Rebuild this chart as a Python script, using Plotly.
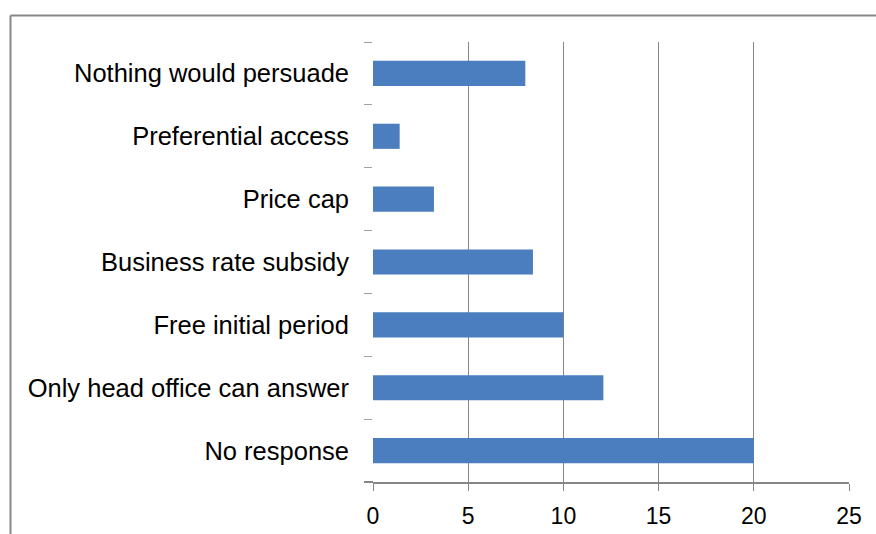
import plotly.graph_objects as go

# Survey responses (bottom to top as drawn)
categories = [
    "No response",
    "Only head office can answer",
    "Free initial period",
    "Business rate subsidy",
    "Price cap",
    "Preferential access",
    "Nothing would persuade",
]
values = [20, 12.1, 10, 8.4, 3.2, 1.4, 8]
x_ticks = [0, 5, 10, 15, 20, 25]

W, H = 876, 534
M_L, M_R, M_T, M_B = 373, 27, 42, 52
plot_w = W - M_L - M_R
plot_h = H - M_T - M_B

GRAY = "#878787"
FONT = "Liberation Sans, Arial, sans-serif"


def px_x(px):
    return (px - M_L) / plot_w


def px_y(py):
    return (H - M_B - py) / plot_h


fig = go.Figure(
    go.Bar(
        x=values,
        y=categories,
        orientation="h",
        marker=dict(color="#4A7EBF", line=dict(width=0)),
        width=0.4,
    )
)

fig.update_layout(
    width=W,
    height=H,
    margin=dict(l=M_L, r=M_R, t=M_T, b=M_B, autoexpand=False),
    paper_bgcolor="white",
    plot_bgcolor="white",
    showlegend=False,
    font=dict(family=FONT, size=23, color="black"),
    xaxis=dict(
        range=[0, 25],
        tickvals=x_ticks,
        showgrid=True,
        gridcolor=GRAY,
        gridwidth=1,
        zeroline=False,
        showline=True,
        linecolor=GRAY,
        linewidth=2,
        ticks="outside",
        ticklen=7,
        tickcolor=GRAY,
        tickfont=dict(size=23),
        ticklabelstandoff=5,
    ),
    yaxis=dict(
        type="category",
        categoryorder="array",
        categoryarray=categories,
        range=[-0.5, len(categories) - 0.5],
        showgrid=False,
        zeroline=False,
        showline=False,
        ticks="outside",
        tickson="boundaries",
        ticklen=8,
        tickcolor="#a0a0a0",
        tickfont=dict(size=25.5),
        ticklabelstandoff=23,
    ),
    shapes=[
        # outer chart border (top and left edges)
        dict(type="line", xref="paper", yref="paper",
             x0=px_x(10.5), x1=px_x(W + 5), y0=px_y(15.5), y1=px_y(15.5),
             line=dict(color=GRAY, width=2)),
        dict(type="line", xref="paper", yref="paper",
             x0=px_x(10.5), x1=px_x(10.5), y0=px_y(15.5), y1=px_y(H + 5),
             line=dict(color=GRAY, width=2)),
        # axis line continues under the category tick at the base
        dict(type="line", xref="paper", yref="paper",
             x0=px_x(M_L - 9), x1=0, y0=0, y1=0,
             line=dict(color=GRAY, width=2)),
    ],
)

fig.write_html("out.html")
